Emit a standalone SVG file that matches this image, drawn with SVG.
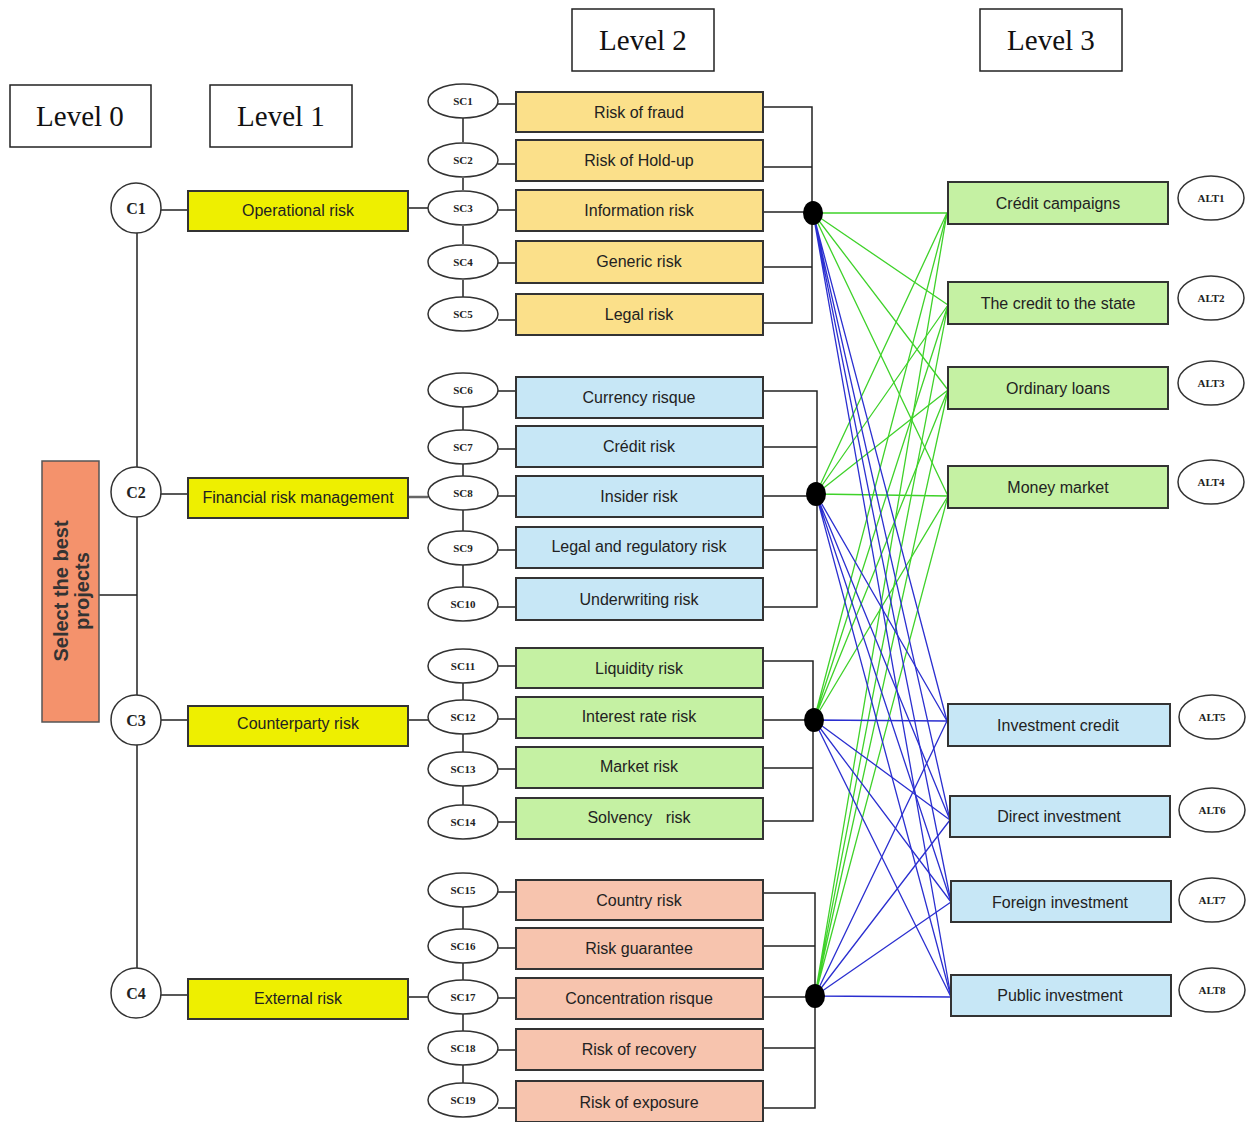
<svg xmlns="http://www.w3.org/2000/svg" width="1250" height="1122" viewBox="0 0 1250 1122">
<style>
.lvl{fill:#fff;stroke:#222;stroke-width:1.5}
.lvlt{font-family:"Liberation Serif",serif;font-size:29px;fill:#111;text-anchor:middle}
.box{stroke:#333;stroke-width:2}
.y1{fill:#eeef00}
.yl{fill:#fbe08a}
.bl{fill:#c7e7f6}
.gr{fill:#c5f1a3}
.sa{fill:#f7c4ae}
.bt{font-family:"Liberation Sans",Arial,sans-serif;font-size:16px;fill:#222;text-anchor:middle}
.el{fill:#fff;stroke:#333;stroke-width:1.5}
.et{font-family:"Liberation Serif",serif;font-weight:bold;font-size:11px;fill:#222;text-anchor:middle}
.ct{font-family:"Liberation Serif",serif;font-weight:bold;font-size:16px;fill:#222;text-anchor:middle}
.ln{stroke:#222;stroke-width:1.5;fill:none}
.g{stroke:#3fd22a;stroke-width:1.3}
.b{stroke:#2b2fd0;stroke-width:1.3}
</style>

<!-- level headers -->
<g id="level0"><rect class="lvl" x="10" y="85" width="141" height="62"/><text class="lvlt" x="80" y="126">Level 0</text></g>
<g id="level1"><rect class="lvl" x="210" y="85" width="142" height="62"/><text class="lvlt" x="281" y="126">Level 1</text></g>
<g id="level2"><rect class="lvl" x="572" y="9" width="142" height="62"/><text class="lvlt" x="643" y="50">Level 2</text></g>
<g id="level3"><rect class="lvl" x="980" y="9" width="142" height="62"/><text class="lvlt" x="1051" y="50">Level 3</text></g>

<!-- connectors -->
<g id="connectors">
  <!-- root to bus -->
  <path class="ln" d="M99 595 H137 M137 233 V467 M137 517 V695 M137 745 V968"/>
  <!-- C to level1 -->
  <path class="ln" d="M161 210 H188 M161 494 H188 M161 720 H188 M161 995 H188"/>
  <!-- level1 to SC -->
  <path class="ln" d="M408 208 H428 M408 720 H428 M408 997 H428"/>
  <path d="M408 497 H428" stroke="#666" stroke-width="2.5"/>
  <!-- SC vertical chains -->
  <path class="ln" d="M463 118 V142 M463 178 V190 M463 226 V244 M463 280 V297"/>
  <path class="ln" d="M463 407 V430 M463 464 V476 M463 510 V531 M463 565 V587"/>
  <path class="ln" d="M463 683 V700 M463 734 V752 M463 786 V805"/>
  <path class="ln" d="M463 907 V929 M463 963 V980 M463 1014 V1031 M463 1065 V1083"/>
  <!-- SC to boxes -->
  <path class="ln" d="M498 104 H516 M498 164 H516 M498 210 H516 M498 263 H516 M498 320 H516"/>
  <path class="ln" d="M498 391 H516 M498 449 H516 M498 496 H516 M498 550 H516 M498 607 H516"/>
  <path class="ln" d="M498 666 H516 M498 719 H516 M498 769 H516 M498 822 H516"/>
  <path class="ln" d="M498 892 H516 M498 948 H516 M498 998 H516 M498 1050 H516 M498 1108 H516"/>
  <!-- brackets -->
  <path class="ln" d="M763 107 H812 V323 H763 M763 167 H812 M763 212 H812 M763 267 H812"/>
  <path class="ln" d="M763 391 H817 V607 H763 M763 447 H817 M763 496 H817 M763 550 H817"/>
  <path class="ln" d="M763 661 H813 V821 H763 M763 720 H813 M763 768 H813"/>
  <path class="ln" d="M763 893 H815 V1108 H763 M763 946 H815 M763 997 H815 M763 1048 H815"/>
  <!-- hub to alternatives -->
  <g class="g">
    <path d="M813 213 L947 213 M813 213 L948 305 M813 213 L948 390 M813 213 L948 496"/>
    <path d="M816 494 L947 213 M816 494 L948 305 M816 494 L948 390 M816 494 L948 496"/>
    <path d="M814 720 L947 213 M814 720 L948 305 M814 720 L948 390 M814 720 L948 496"/>
    <path d="M815 996 L947 213 M815 996 L948 305 M815 996 L948 390 M815 996 L948 496"/>
  </g>
  <g class="b">
    <path d="M813 213 L947 721 M813 213 L950 820 M813 213 L951 902 M813 213 L951 997"/>
    <path d="M816 494 L947 721 M816 494 L950 820 M816 494 L951 902 M816 494 L951 997"/>
    <path d="M814 720 L947 721 M814 720 L950 820 M814 720 L951 902 M814 720 L951 997"/>
    <path d="M815 996 L947 721 M815 996 L950 820 M815 996 L951 902 M815 996 L951 997"/>
  </g>
  <!-- hubs -->
  <ellipse cx="813" cy="213" rx="10" ry="12" fill="#000"/>
  <ellipse cx="816" cy="494" rx="10" ry="12" fill="#000"/>
  <ellipse cx="814" cy="720" rx="10" ry="12" fill="#000"/>
  <ellipse cx="815" cy="996" rx="10" ry="12" fill="#000"/>
</g>

<!-- root -->
<g id="root">
  <rect x="42" y="461" width="57" height="261" fill="#f4926c" stroke="#555" stroke-width="1.5"/>
  <g transform="translate(70,591) rotate(-90)" font-family="Liberation Sans,Arial,sans-serif" font-weight="bold" font-size="20" fill="#333" text-anchor="middle">
    <text x="0" y="-2">Select the best</text>
    <text x="0" y="19">projects</text>
  </g>
</g>

<!-- criteria circles -->
<g id="C1"><circle class="el" cx="136" cy="208" r="25"/><text class="ct" x="136" y="214">C1</text></g>
<g id="C2"><circle class="el" cx="136" cy="492" r="25"/><text class="ct" x="136" y="498">C2</text></g>
<g id="C3"><circle class="el" cx="136" cy="720" r="25"/><text class="ct" x="136" y="726">C3</text></g>
<g id="C4"><circle class="el" cx="136" cy="993" r="25"/><text class="ct" x="136" y="999">C4</text></g>

<!-- level 1 boxes -->
<g id="L1-operational"><rect class="box y1" x="188" y="191" width="220" height="40"/><text class="bt" x="298" y="216">Operational risk</text></g>
<g id="L1-financial"><rect class="box y1" x="188" y="478" width="220" height="40"/><text class="bt" x="298" y="503">Financial risk management</text></g>
<g id="L1-counterparty"><rect class="box y1" x="188" y="706" width="220" height="40"/><text class="bt" x="298" y="729" font-size="18">Counterparty risk</text></g>
<g id="L1-external"><rect class="box y1" x="188" y="979" width="220" height="40"/><text class="bt" x="298" y="1004">External risk</text></g>

<!-- SC ellipses -->
<g id="SC1"><ellipse class="el" cx="463" cy="101" rx="35" ry="17"/><text class="et" x="463" y="105">SC1</text></g>
<g id="SC2"><ellipse class="el" cx="463" cy="160" rx="35" ry="17"/><text class="et" x="463" y="164">SC2</text></g>
<g id="SC3"><ellipse class="el" cx="463" cy="208" rx="35" ry="17"/><text class="et" x="463" y="212">SC3</text></g>
<g id="SC4"><ellipse class="el" cx="463" cy="262" rx="35" ry="17"/><text class="et" x="463" y="266">SC4</text></g>
<g id="SC5"><ellipse class="el" cx="463" cy="314" rx="35" ry="17"/><text class="et" x="463" y="318">SC5</text></g>
<g id="SC6"><ellipse class="el" cx="463" cy="390" rx="35" ry="17"/><text class="et" x="463" y="394">SC6</text></g>
<g id="SC7"><ellipse class="el" cx="463" cy="447" rx="35" ry="17"/><text class="et" x="463" y="451">SC7</text></g>
<g id="SC8"><ellipse class="el" cx="463" cy="493" rx="35" ry="17"/><text class="et" x="463" y="497">SC8</text></g>
<g id="SC9"><ellipse class="el" cx="463" cy="548" rx="35" ry="17"/><text class="et" x="463" y="552">SC9</text></g>
<g id="SC10"><ellipse class="el" cx="463" cy="604" rx="35" ry="17"/><text class="et" x="463" y="608">SC10</text></g>
<g id="SC11"><ellipse class="el" cx="463" cy="666" rx="35" ry="17"/><text class="et" x="463" y="670">SC11</text></g>
<g id="SC12"><ellipse class="el" cx="463" cy="717" rx="35" ry="17"/><text class="et" x="463" y="721">SC12</text></g>
<g id="SC13"><ellipse class="el" cx="463" cy="769" rx="35" ry="17"/><text class="et" x="463" y="773">SC13</text></g>
<g id="SC14"><ellipse class="el" cx="463" cy="822" rx="35" ry="17"/><text class="et" x="463" y="826">SC14</text></g>
<g id="SC15"><ellipse class="el" cx="463" cy="890" rx="35" ry="17"/><text class="et" x="463" y="894">SC15</text></g>
<g id="SC16"><ellipse class="el" cx="463" cy="946" rx="35" ry="17"/><text class="et" x="463" y="950">SC16</text></g>
<g id="SC17"><ellipse class="el" cx="463" cy="997" rx="35" ry="17"/><text class="et" x="463" y="1001">SC17</text></g>
<g id="SC18"><ellipse class="el" cx="463" cy="1048" rx="35" ry="17"/><text class="et" x="463" y="1052">SC18</text></g>
<g id="SC19"><ellipse class="el" cx="463" cy="1100" rx="35" ry="17"/><text class="et" x="463" y="1104">SC19</text></g>

<!-- level 2 boxes -->
<g id="L2-fraud"><rect class="box yl" x="516" y="92" width="247" height="40"/><text class="bt" x="639" y="118">Risk of fraud</text></g>
<g id="L2-holdup"><rect class="box yl" x="516" y="140" width="247" height="41"/><text class="bt" x="639" y="166">Risk of Hold-up</text></g>
<g id="L2-information"><rect class="box yl" x="516" y="190" width="247" height="41"/><text class="bt" x="639" y="216">Information risk</text></g>
<g id="L2-generic"><rect class="box yl" x="516" y="241" width="247" height="42"/><text class="bt" x="639" y="267">Generic risk</text></g>
<g id="L2-legal"><rect class="box yl" x="516" y="294" width="247" height="41"/><text class="bt" x="639" y="320">Legal risk</text></g>

<g id="L2-currency"><rect class="box bl" x="516" y="377" width="247" height="41"/><text class="bt" x="639" y="403">Currency risque</text></g>
<g id="L2-credit"><rect class="box bl" x="516" y="426" width="247" height="41"/><text class="bt" x="639" y="452">Crédit risk</text></g>
<g id="L2-insider"><rect class="box bl" x="516" y="476" width="247" height="41"/><text class="bt" x="639" y="502">Insider risk</text></g>
<g id="L2-regulatory"><rect class="box bl" x="516" y="527" width="247" height="41"/><text class="bt" x="639" y="552">Legal and regulatory risk</text></g>
<g id="L2-underwriting"><rect class="box bl" x="516" y="578" width="247" height="42"/><text class="bt" x="639" y="605">Underwriting risk</text></g>

<g id="L2-liquidity"><rect class="box gr" x="516" y="648" width="247" height="40"/><text class="bt" x="639" y="674">Liquidity risk</text></g>
<g id="L2-interest"><rect class="box gr" x="516" y="697" width="247" height="41"/><text class="bt" x="639" y="722">Interest rate risk</text></g>
<g id="L2-market"><rect class="box gr" x="516" y="747" width="247" height="41"/><text class="bt" x="639" y="772">Market risk</text></g>
<g id="L2-solvency"><rect class="box gr" x="516" y="798" width="247" height="41"/><text class="bt" x="639" y="823" xml:space="preserve">Solvency   risk</text></g>

<g id="L2-country"><rect class="box sa" x="516" y="880" width="247" height="40"/><text class="bt" x="639" y="906">Country risk</text></g>
<g id="L2-guarantee"><rect class="box sa" x="516" y="928" width="247" height="41"/><text class="bt" x="639" y="954">Risk guarantee</text></g>
<g id="L2-concentration"><rect class="box sa" x="516" y="978" width="247" height="41"/><text class="bt" x="639" y="1004">Concentration risque</text></g>
<g id="L2-recovery"><rect class="box sa" x="516" y="1029" width="247" height="41"/><text class="bt" x="639" y="1055">Risk of recovery</text></g>
<g id="L2-exposure"><rect class="box sa" x="516" y="1081" width="247" height="41"/><text class="bt" x="639" y="1108">Risk of exposure</text></g>

<!-- alternatives -->
<g id="ALT1"><rect class="box gr" x="948" y="182" width="220" height="42"/><text class="bt" x="1058" y="209">Crédit campaigns</text><ellipse class="el" cx="1211" cy="198" rx="33" ry="22"/><text class="et" x="1211" y="202">ALT1</text></g>
<g id="ALT2"><rect class="box gr" x="948" y="282" width="220" height="42"/><text class="bt" x="1058" y="309">The credit to the state</text><ellipse class="el" cx="1211" cy="298" rx="33" ry="22"/><text class="et" x="1211" y="302">ALT2</text></g>
<g id="ALT3"><rect class="box gr" x="948" y="367" width="220" height="42"/><text class="bt" x="1058" y="394">Ordinary loans</text><ellipse class="el" cx="1211" cy="383" rx="33" ry="22"/><text class="et" x="1211" y="387">ALT3</text></g>
<g id="ALT4"><rect class="box gr" x="948" y="466" width="220" height="42"/><text class="bt" x="1058" y="493">Money market</text><ellipse class="el" cx="1211" cy="482" rx="33" ry="22"/><text class="et" x="1211" y="486">ALT4</text></g>
<g id="ALT5"><rect class="box bl" x="948" y="704" width="222" height="42"/><text class="bt" x="1058" y="731">Investment credit</text><ellipse class="el" cx="1212" cy="717" rx="33" ry="22"/><text class="et" x="1212" y="721">ALT5</text></g>
<g id="ALT6"><rect class="box bl" x="950" y="796" width="220" height="41"/><text class="bt" x="1059" y="822">Direct investment</text><ellipse class="el" cx="1212" cy="810" rx="33" ry="22"/><text class="et" x="1212" y="814">ALT6</text></g>
<g id="ALT7"><rect class="box bl" x="951" y="881" width="220" height="41"/><text class="bt" x="1060" y="908">Foreign investment</text><ellipse class="el" cx="1212" cy="900" rx="33" ry="22"/><text class="et" x="1212" y="904">ALT7</text></g>
<g id="ALT8"><rect class="box bl" x="951" y="975" width="220" height="41"/><text class="bt" x="1060" y="1001">Public investment</text><ellipse class="el" cx="1212" cy="990" rx="33" ry="22"/><text class="et" x="1212" y="994">ALT8</text></g>
</svg>
